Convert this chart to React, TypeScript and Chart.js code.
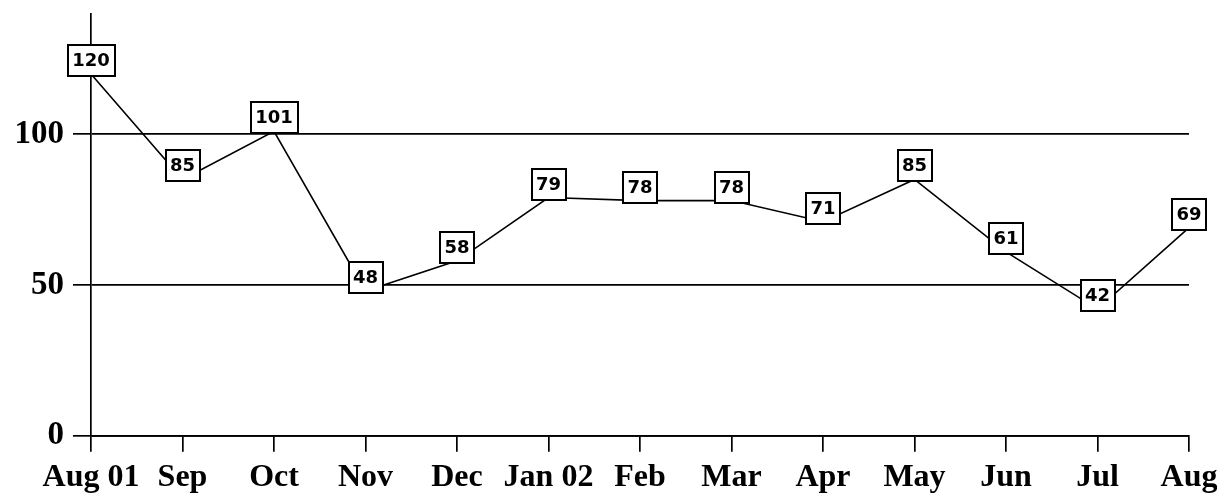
import React, { useEffect, useRef } from "react";
import { Chart, registerables } from "chart.js";

Chart.register(...registerables);

const categories = ["Aug 01", "Sep", "Oct", "Nov", "Dec", "Jan 02", "Feb", "Mar", "Apr", "May", "Jun", "Jul", "Aug"];
const values = [120, 85, 101, 48, 58, 79, 78, 78, 71, 85, 61, 42, 69];
const yTickValues = [0, 50, 100];
const yMin = 0;
const yMax = 140;

const boxLabelPlugin = {
  id: "boxLabels",
  afterDatasetsDraw(chart: any) {
    const ctx = chart.ctx;
    const meta = chart.getDatasetMeta(0);
    const data = chart.data.datasets[0].data;
    ctx.save();
    ctx.font = "bold 18px 'DejaVu Sans', sans-serif";
    ctx.textAlign = "center";
    ctx.textBaseline = "middle";
    meta.data.forEach((pt: any, i: number) => {
      const { x, y } = pt.getProps(["x", "y"], true);
      const text = String(data[i]);
      const tw = ctx.measureText(text).width;
      const w = Math.round(tw + 9);
      const h = 31;
      const left = Math.round(x - w / 2);
      const top = Math.round(y + 2 - h);
      ctx.fillStyle = "#ffffff";
      ctx.fillRect(left, top, w, h);
      ctx.strokeStyle = "#000000";
      ctx.lineWidth = 2;
      ctx.strokeRect(left, top, w, h);
      ctx.fillStyle = "#000000";
      ctx.fillText(text, x, top + h / 2 + 1);
    });
    ctx.restore();
  },
};

export default function App() {
  const canvasRef = useRef<HTMLCanvasElement | null>(null);

  useEffect(() => {
    const canvas = canvasRef.current;
    if (!canvas) return;
    const chart = new Chart(canvas, {
      type: "line",
      data: {
        labels: categories,
        datasets: [
          {
            data: values,
            borderColor: "#000000",
            borderWidth: 1.6,
            pointRadius: 0,
            tension: 0,
            fill: false,
          },
        ],
      },
      options: {
        responsive: false,
        animation: false,
        events: [],
        layout: { padding: { top: 13.7, right: 28, bottom: 0, left: 0 } },
        plugins: {
          legend: { display: false },
          tooltip: { enabled: false },
          title: { display: false },
        },
        scales: {
          x: {
            type: "category",
            offset: false,
            border: { display: true, color: "#000000", width: 1.7 },
            grid: {
              display: true,
              drawOnChartArea: false,
              drawTicks: true,
              tickLength: 16,
              color: "#000000",
              lineWidth: 1.7,
            },
            ticks: {
              color: "#000000",
              font: { family: "'Liberation Serif', serif", size: 32, weight: "bold" },
              padding: 7,
              maxRotation: 0,
              autoSkip: false,
            },
            afterFit(scale: any) {
              scale.height = 61.3;
              scale.paddingLeft = 0;
              scale.paddingRight = 0;
            },
          },
          y: {
            min: yMin,
            max: yMax,
            border: { display: true, color: "#000000", width: 1.7 },
            grid: {
              display: true,
              drawOnChartArea: true,
              drawTicks: true,
              tickLength: 18,
              color: "#000000",
              lineWidth: 1.7,
            },
            ticks: {
              color: "#000000",
              font: { family: "'Liberation Serif', serif", size: 33, weight: "bold" },
              padding: 9,
            },
            afterBuildTicks(scale: any) {
              scale.ticks = yTickValues.map((v) => ({ value: v }));
            },
            afterFit(scale: any) {
              scale.width = 91;
              scale.paddingTop = 0;
              scale.paddingBottom = 0;
            },
          },
        },
      },
      plugins: [boxLabelPlugin],
    });
    return () => chart.destroy();
  }, []);

  return (
    <div style={{ position: "absolute", left: 0, top: 0, width: 1217, height: 497, background: "#ffffff" }}>
      <canvas ref={canvasRef} width={1217} height={497} style={{ display: "block" }} />
    </div>
  );
}
